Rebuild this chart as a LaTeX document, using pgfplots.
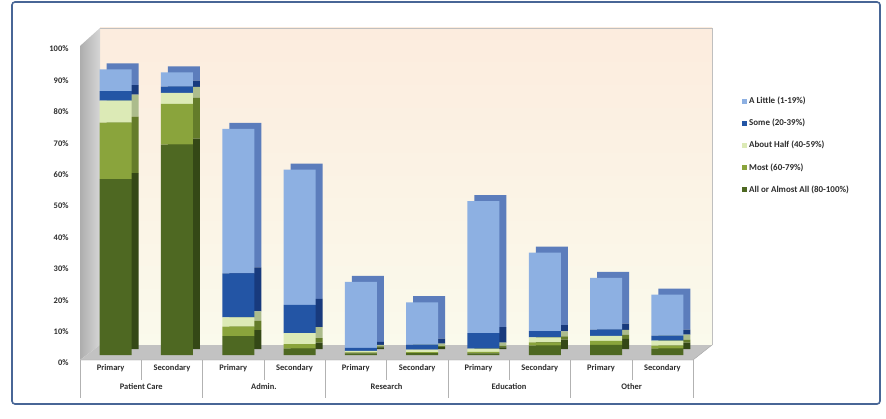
\documentclass[border=0pt]{standalone}
\usepackage{pgfplots}
\pgfplotsset{compat=1.18}
\usepackage{pgfplotstable}
\usepackage{fontspec}
\setmainfont{Carlito}
\definecolor{cLittle}{RGB}{141,176,226}
\definecolor{cSome}{RGB}{35,85,165}
\definecolor{cHalf}{RGB}{220,234,182}
\definecolor{cMost}{RGB}{138,164,60}
\definecolor{cAll}{RGB}{78,104,34}
\definecolor{sLittle}{RGB}{92,125,188}
\definecolor{sSome}{RGB}{24,58,125}
\definecolor{sHalf}{RGB}{172,188,140}
\definecolor{sMost}{RGB}{100,124,42}
\definecolor{sAll}{RGB}{52,72,22}
\definecolor{frame}{RGB}{72,102,150}
\definecolor{wallTop}{RGB}{252,236,222}
\definecolor{wallBot}{RGB}{250,250,236}
\definecolor{txt}{RGB}{45,45,45}

\pgfplotstableread{
x All Most Half Some Little
0 56 18 7 3 7
1 67 13 3.5 2 4.5
2 6 3 3 14 46
3 2 1.5 3.5 9 43
4 0.5 0.3 0.5 1 21
5 0.6 0.3 0.8 1.6 13.5
6 0.5 0.5 1 5 42
7 3 1 1.6 2 25
8 3.2 1.3 1.6 2 16.5
9 2 1 1.6 1.6 13
}\data

\begin{document}
\begin{tikzpicture}
\begin{scope}[x=1bp,y=1bp]
\path[use as bounding box] (0,0) rectangle (886,418);
\fill[white] (0,0) rectangle (886,418);
\draw[rounded corners=3bp, line width=1.6bp, frame] (12,416) rectangle (880,14);
% walls
\shade[top color=wallTop, bottom color=wallBot] (100,73) rectangle (712,390);
\draw[black!25] (100,390) -- (712,390) -- (712,73);
\shade[left color=black!32, right color=black!16] (80,58) -- (80,372) -- (100,390) -- (100,73) -- cycle;
\fill[black!24] (80,58) -- (693,58) -- (712,73) -- (100,73) -- cycle;
\draw[black!35] (80,58) -- (693,58) -- (712,73);
% category separators and group names
\draw[black!30] (80,58) -- ++(0,-38);
\draw[black!30] (202.6,58) -- ++(0,-38);
\draw[black!30] (325.2,58) -- ++(0,-38);
\draw[black!30] (447.8,58) -- ++(0,-38);
\draw[black!30] (570.4,58) -- ++(0,-38);
\draw[black!30] (693,58) -- ++(0,-38);
\draw[black!30] (141.3,58) -- ++(0,-20);
\draw[black!30] (263.9,58) -- ++(0,-20);
\draw[black!30] (386.5,58) -- ++(0,-20);
\draw[black!30] (509.1,58) -- ++(0,-20);
\draw[black!30] (631.7,58) -- ++(0,-20);
\begin{scope}[every node/.style={font=\fontsize{8.5}{10}\selectfont\bfseries, text=txt}]
\node at (141.3,31) {Patient Care};
\node at (263.9,31) {Admin.};
\node at (386.5,31) {Research};
\node at (509.1,31) {Education};
\node at (631.7,31) {Other};
\end{scope}
\end{scope}
% shadow (3D depth) of the bars
\begin{axis}[at={(87bp,69bp)}, anchor=south west, width=613bp, height=314bp, scale only axis,
  hide axis, clip=false, xmin=-0.5, xmax=9.5, ymin=0, ymax=100,
  ybar stacked, bar width=32bp, bar shift=5bp]
\addplot[fill=sAll, draw=none] table[x=x,y=All] {\data};
\addplot[fill=sMost, draw=none] table[x=x,y=Most] {\data};
\addplot[fill=sHalf, draw=none] table[x=x,y=Half] {\data};
\addplot[fill=sSome, draw=none] table[x=x,y=Some] {\data};
\addplot[fill=sLittle, draw=none] table[x=x,y=Little] {\data};
\end{axis}
% front bars
\begin{axis}[at={(80bp,63bp)}, anchor=south west, width=613bp, height=314bp, scale only axis,
  clip=false, xmin=-0.5, xmax=9.5, ymin=0, ymax=100,
  ybar stacked, bar width=32bp, bar shift=5bp,
  axis line style={draw=none}, major tick length=0pt,
  ytick={0,10,20,30,40,50,60,70,80,90,100},
  yticklabels={0\%,10\%,20\%,30\%,40\%,50\%,60\%,70\%,80\%,90\%,100\%},
  yticklabel style={font=\fontsize{8.5}{10}\selectfont\bfseries, text=txt, xshift=-8bp, yshift=-8bp},
  xtick={0,1,2,3,4,5,6,7,8,9},
  xticklabels={Primary,Secondary,Primary,Secondary,Primary,Secondary,Primary,Secondary,Primary,Secondary},
  xticklabel style={font=\fontsize{8.5}{10}\selectfont\bfseries, text=txt, yshift=-6bp},
  reverse legend,
  legend style={draw=none, fill=none, at={(rel axis cs:1.075,0.835)}, anchor=north west,
    font=\fontsize{9}{11}\selectfont\bfseries, text=txt, row sep=10bp},
  legend cell align=left,
  legend image code/.code={\path[#1] (0bp,-2.5bp) rectangle (5bp,2.5bp);}]
\addplot[fill=cAll, draw=none] table[x=x,y=All] {\data};
\addlegendentry{All or Almost All (80-100\%)}
\addplot[fill=cMost, draw=none] table[x=x,y=Most] {\data};
\addlegendentry{Most (60-79\%)}
\addplot[fill=cHalf, draw=none] table[x=x,y=Half] {\data};
\addlegendentry{About Half (40-59\%)}
\addplot[fill=cSome, draw=none] table[x=x,y=Some] {\data};
\addlegendentry{Some (20-39\%)}
\addplot[fill=cLittle, draw=none] table[x=x,y=Little] {\data};
\addlegendentry{A Little (1-19\%)}
\end{axis}
\end{tikzpicture}
\end{document}
